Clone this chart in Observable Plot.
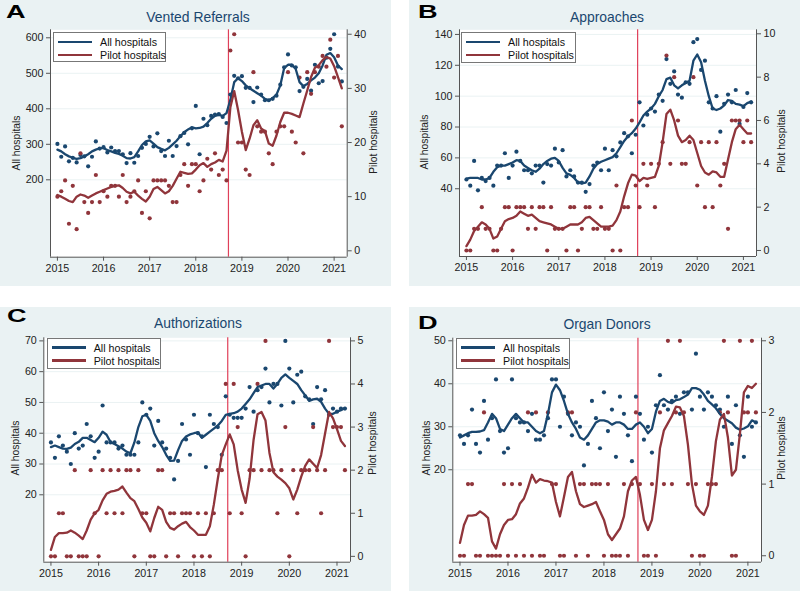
<!DOCTYPE html>
<html><head><meta charset="utf-8">
<script src="https://cdn.jsdelivr.net/npm/d3@7"></script>
<script src="https://cdn.jsdelivr.net/npm/@observablehq/plot@0.6"></script>
<style>
body{margin:0;background:#fff;font-family:"Liberation Sans",Arial,sans-serif;}
#root{position:relative;width:800px;height:591px;overflow:hidden;background:#fff;}
.panel{position:absolute;background:#eaf2f3;}
.plot{position:absolute;}
.letter{position:absolute;font-weight:bold;font-size:17.5px;line-height:1;color:#000;transform-origin:0 0;transform:scaleX(1.55);}
.title{position:absolute;font-size:13.9px;line-height:1;color:#1a476f;transform:translate(-50%,-50%);white-space:nowrap;}
.ytitle{position:absolute;font-size:10.3px;line-height:1;color:#222;transform:translate(-50%,-50%) rotate(-90deg);white-space:nowrap;}
.legend{position:absolute;background:#fff;border:1px solid #777;box-sizing:border-box;font-size:10.7px;color:#111;}
.entry{position:absolute;left:4px;height:12px;display:flex;align-items:center;white-space:nowrap;}
.sw{display:inline-block;width:34px;height:2.6px;margin-right:8px;}
</style></head>
<body><div id="root"></div>
<script>
// ---- data: monthly values, Jan 2015 .. Mar 2021 ----
const years = [2015, 2016, 2017, 2018, 2019, 2020, 2021];
const seriesNames = ["All hospitals", "Pilot hospitals"];
const interventionMonth = 44.5; // mid-Sep 2018, months since Jan 2015

const ventedAll = [301,265,294,252,262,249,270,266,238,265,308,288,292,277,291,281,281,272,247,275,248,267,290,301,321,294,331,281,267,310,267,295,323,332,300,345,408,272,372,354,380,384,385,377,360,440,493,486,492,459,459,419,460,440,424,424,428,437,468,517,553,522,517,450,462,484,451,524,472,478,544,569,610,519,477];
const ventedAllFit = [285,280,272,266,262,259,261,266,272,280,285,289,289,284,280,276,273,268,261,260,264,280,298,308,311,302,292,287,283,290,300,310,323,334,342,348,345,346,350,360,372,380,383,380,388,425,475,486,478,466,458,451,444,437,428,424,430,440,466,515,524,524,512,475,464,470,480,488,500,522,552,557,545,522,512];
const ventedPilot = [10,11,13,5,12,4,18,9,7,9,14,9,11,10,12,12,10,14,9,10,11,13,7,11,6,13,13,13,13,12,9,9,14,16,12,16,16,11,13,17,15,18,14,15,13,37,40,20,20,15,14,33,23,22,22,18,16,22,23,23,33,22,20,32,18,33,29,33,34,36,34,39,32,36,23];
const ventedPilotFit = [10.3,10,9.6,9.2,9,10,10.4,10.2,9.8,10.2,10.6,10.9,11.2,11.5,11.8,12,12.1,11.6,10.9,10.6,10.9,10.2,9.6,9.1,10,11.4,11.8,11.2,10.6,11,12,13.3,14.6,14.4,14.2,14.3,15,15.8,16.2,15.5,16,16.3,16.8,16.5,18.5,26.5,29.5,26,22,18.6,20.7,23.2,24.1,22.6,22.1,19.8,19.4,21.3,23.8,25.5,25.5,25.3,25,24.7,27.2,29.6,32.1,33.8,34.3,35.2,35.8,35.5,34.1,32.1,30];

const approachAll = [46,42,58,39,47,45,47,42,55,55,63,47,55,64,58,52,52,50,55,55,44,56,55,66,57,65,48,52,48,44,44,38,43,55,57,52,66,52,65,61,70,76,74,63,75,96,81,88,92,90,101,97,124,108,116,101,99,109,108,135,137,117,123,96,92,100,77,95,101,96,104,82,93,102,96];
const approachAllFit = [46.5,47,47,47,46,46,47,51,54,55,55,56,57,58.5,58,55,53.5,52,51,53,56,58,59.5,60,58,53.5,50,49,47,44,43.5,44,48,53,56,57.5,58.5,59.5,60.5,63,67,71,74,76,79,83,87.5,90,92,95,100,104,111,112,107,105,107,108.5,110,123,127,122,110,100,92,91,92,94,97.5,97,95,94.5,93.5,95.5,96.5];
const approachPilot = [0,0,1,1,2,1,1,0,0,1,2,2,0,2,2,2,1,2,1,2,2,0,2,1,1,1,0,2,2,0,1,2,2,1,1,2,1,1,0,3,0,2,2,6,3,2,4,3,4,2,4,5,9,4,8,6,4,4,5,8,3,5,2,5,2,5,3,4,1,6,6,6,5,6,5];
const approachPilotFit = [0.2,0.5,0.9,1.1,1.3,1.2,1.0,0.55,0.65,1.0,1.35,1.45,1.5,1.6,1.8,1.7,1.6,1.65,1.5,1.35,1.3,1.25,1.2,1.1,1.0,1.0,1.1,1.2,1.2,1.2,1.3,1.5,1.55,1.4,1.25,1.1,1.1,1.1,1.15,1.4,1.8,2.5,3.1,3.5,3.45,3.2,3.35,3.3,3.35,3.4,3.9,5.0,6.3,6.5,6.0,5.3,5.0,5.1,5.3,5.1,4.5,3.9,3.6,3.5,3.65,3.6,3.4,3.4,4.2,5.0,5.6,5.8,5.6,5.4,5.4];

const authAll = [37,32,39,36,34,30,40,35,36,43,39,32,34,49,37,37,37,35,36,33,33,33,37,50,46,48,36,44,37,35,32,25,31,43,38,33,46,40,39,29,46,43,42,33,52,46,45,45,45,48,55,47,54,55,61,50,56,56,49,70,61,50,59,60,52,51,43,55,51,54,46,48,47,48,48];
const authAllFit = [35.5,36,35.5,35,34.9,35.3,36.5,37.2,38.5,38.5,37.8,37.1,38.5,40.5,39.5,37.1,36.5,35.8,35,34,33.5,37,42,45.5,46,44,40,37.5,35.5,33,31,31.1,34.5,37.5,38.9,39.6,40,40.3,38.5,39.5,40.5,41.5,42.5,44,46,46.3,46.5,47,48,49.5,51,53,55,55.5,56,56,54.5,56,58,59.1,58,57,56,54,52.3,50.5,51,51.2,50.2,48,46.3,46.3,47,47.5,48.2];
const authPilot = [0,0,1,1,0,0,2,0,0,0,2,1,0,2,1,2,1,2,1,2,2,0,2,1,1,0,0,2,2,0,1,1,0,1,1,1,0,1,0,1,0,1,2,2,4,1,4,3,1,0,2,2,4,2,5,2,2,1,2,3,0,2,1,2,2,2,3,2,1,2,5,3,3,3,2];
const authPilotFit = [0.15,0.45,0.54,0.54,0.55,0.6,0.55,0.48,0.4,0.6,0.85,1.0,1.08,1.3,1.45,1.5,1.52,1.55,1.62,1.48,1.35,1.28,1.1,0.9,0.78,0.58,0.89,1.15,1.08,0.8,0.66,0.62,0.7,0.76,0.8,0.68,0.6,0.5,0.5,0.5,0.7,1.2,1.8,2.35,2.6,2.83,2.6,2.0,1.55,1.24,1.8,2.7,3.3,3.35,3.15,2.4,1.95,1.85,1.78,1.7,1.58,1.32,1.55,1.85,2.1,2.25,2.15,2.05,2.35,2.85,3.35,3.2,2.95,2.68,2.56];

const donorAll = [28,26,28,34,26,24,36,27,32,41,29,24,25,41,32,31,31,29,33,27,27,28,32,41,41,30,37,33,28,31,30,21,26,36,32,25,38,29,34,23,37,33,28,22,37,33,27,30,24,35,42,35,34,36,37,33,38,38,34,47,37,34,38,37,35,34,30,37,26,35,28,23,37,30,31];
const donorAllFit = [27.5,28,28.5,28.8,28.8,28.9,29.2,31,33,32,29.5,29,30.5,32,33,32,31,31,30,29,28.5,29,33,38,39.8,38.5,36,33,31,29.5,27.5,27,28,29.5,31,31.5,31.5,31.2,30.5,31,31,30.5,29.5,29.5,30.5,31,30,28.5,29.5,33.5,36,36.5,35.8,35.5,36.2,36.4,36.9,37.5,39,39,38.6,37.5,36,35.2,34.3,33,32,31.4,30.8,29.8,29.3,29.6,30.1,31.5,31];
const donorPilot = [0,0,1,1,0,0,2,0,0,0,0,1,0,1,0,1,0,2,0,2,0,0,2,1,1,0,0,2,2,0,1,1,0,1,1,1,0,1,0,0,0,1,0,1,2,1,0,0,1,0,2,1,3,1,2,3,2,1,0,1,0,0,1,1,1,2,3,2,0,0,3,2,2,3,2];
const donorPilotFit = [0.18,0.43,0.56,0.56,0.57,0.62,0.58,0.53,0.2,0.1,0.3,0.43,0.5,0.51,0.58,0.73,0.8,0.95,1.13,1.02,1.07,1.05,1.04,1.02,0.75,0.55,0.82,1.1,1.17,0.9,0.72,0.68,0.7,0.72,0.75,0.62,0.5,0.3,0.22,0.3,0.38,0.55,0.9,1.05,1.1,0.85,0.5,0.36,0.5,0.9,1.5,1.75,1.85,1.95,2.08,2.07,1.95,1.55,1.0,0.7,0.62,0.57,0.7,1.1,1.6,1.9,1.98,1.65,1.12,1.2,1.7,2.28,2.37,2.34,2.4];

const leftTicksA = [200,300,400,500,600], rightTicksA = [0,10,20,30,40];
const leftTicksB = [40,60,80,100,120,140], rightTicksB = [0,2,4,6,8,10];
const leftTicksC = [20,30,40,50,60,70], rightTicksC = [0,1,2,3,4,5];
const leftTicksD = [20,30,40,50], rightTicksD = [0,1,2,3];

// ---- layout ----
const BLUE = "#1a476f", RED = "#90353b", VLINE = "#e0405a";
const xDomain = [-1.8, 75.4];

const panels = [
  {letter:"A", title:"Vented Referrals", all:ventedAll, allFit:ventedAllFit, pilot:ventedPilot, pilotFit:ventedPilotFit,
   leftTicks:leftTicksA, rightTicks:rightTicksA, k:15.25, yDomain:[-18,622.5],
   box:[0,0,391,286], m:[29.3,44.3,29.3,50], letterPos:[6,3.5], titlePos:[198,18.3], lt:[16.7,143], rt:[374,142], legend:[53,32,113,30]},
  {letter:"B", title:"Approaches", all:approachAll, allFit:approachAllFit, pilot:approachPilot, pilotFit:approachPilotFit,
   leftTicks:leftTicksB, rightTicks:rightTicksB, k:14.04, yDomain:[-3.9,143],
   box:[409,0,391,286], m:[29.3,44,30,50], letterPos:[418,3.5], titlePos:[607,18.3], lt:[425,142], rt:[782,141], legend:[461,32,115,31]},
  {letter:"C", title:"Authorizations", all:authAll, allFit:authAllFit, pilot:authPilot, pilotFit:authPilotFit,
   leftTicks:leftTicksC, rightTicks:rightTicksC, k:14, yDomain:[-1.9,71],
   box:[0,307,391,284], m:[30.3,41,29.3,43.3], letterPos:[6.5,308],titlePos:[198,324.3], lt:[16,448], rt:[373,443], legend:[46.7,337.7,114,31]},
  {letter:"D", title:"Organ Donors", all:donorAll, allFit:donorAllFit, pilot:donorPilot, pilotFit:donorPilotFit,
   leftTicks:leftTicksD, rightTicks:rightTicksD, k:50/3, yDomain:[-1.5,50.6],
   box:[409,307,391,284], m:[30.7,39,29.3,43.3], letterPos:[418,315],titlePos:[607,325], lt:[427,448], rt:[782,448], legend:[456,337.7,114,31]}
];

const root = document.getElementById("root");
function add(cls, html, style) {
  const d = document.createElement("div");
  d.className = cls; if (html != null) d.textContent = html;
  Object.assign(d.style, style); root.appendChild(d); return d;
}

for (const p of panels) {
  const [bx, by, bw, bh] = p.box;
  add("panel", null, {left: bx+"px", top: by+"px", width: bw+"px", height: bh+"px"});
  const toRows = (arr) => arr.map((v, i) => ({m: i, v}));
  const all = toRows(p.all), allFit = toRows(p.allFit);
  const pilot = toRows(p.pilot), pilotFit = toRows(p.pilotFit);
  const k = p.k;
  const chart = Plot.plot({
    width: bw, height: bh,
    marginTop: p.m[0], marginRight: p.m[1], marginBottom: p.m[2], marginLeft: p.m[3],
    style: {background: "transparent", fontFamily: "'Liberation Sans', Arial, sans-serif", fontSize: "10px", color: "#222", overflow: "visible"},
    x: {domain: xDomain, axis: null},
    y: {domain: p.yDomain, axis: null},
    marks: [
      Plot.frame({fill: "white", stroke: null}),
      Plot.gridY({ticks: p.leftTicks, stroke: "#eaf2f3", strokeOpacity: 1, strokeWidth: 1}),
      Plot.ruleX([interventionMonth], {stroke: VLINE, strokeWidth: 1.2}),
      Plot.dot(all, {x: "m", y: "v", r: 2.1, fill: BLUE, stroke: null}),
      Plot.dot(pilot, {x: "m", y: d => d.v * k, r: 2.1, fill: RED, stroke: null}),
      Plot.line(allFit, {x: "m", y: "v", stroke: BLUE, strokeWidth: 2.3}),
      Plot.line(pilotFit, {x: "m", y: d => d.v * k, stroke: RED, strokeWidth: 2.3}),
      Plot.ruleX([xDomain[0], xDomain[1]], {stroke: "#555", strokeWidth: 1}),
      Plot.ruleY([p.yDomain[0]], {stroke: "#555", strokeWidth: 1}),
      Plot.axisX({ticks: years.map(y => (y - 2015) * 12), tickFormat: d => String(2015 + d / 12), tickSize: 4, tickPadding: 3, stroke: "#555", label: null, fontSize: 10.7}),
      Plot.axisY({anchor: "left", ticks: p.leftTicks, tickSize: 4, tickPadding: 3, stroke: "#555", label: null, fontSize: 10.7}),
      Plot.axisY({anchor: "right", ticks: p.rightTicks.map(v => v * k), tickFormat: d => String(Math.round(d / k)), tickSize: 4, tickPadding: 3, stroke: "#555", label: null, fontSize: 10.7})
    ]
  });
  chart.classList.add("plot");
  chart.style.left = bx + "px"; chart.style.top = by + "px";
  root.appendChild(chart);

  add("letter", p.letter, {left: p.letterPos[0]+"px", top: p.letterPos[1]+"px"});
  add("title", p.title, {left: p.titlePos[0]+"px", top: p.titlePos[1]+"px"});
  add("ytitle", seriesNames[0], {left: p.lt[0]+"px", top: p.lt[1]+"px"});
  add("ytitle", seriesNames[1], {left: p.rt[0]+"px", top: p.rt[1]+"px"});
  const lg = add("legend", null, {left: p.legend[0]+"px", top: p.legend[1]+"px", width: p.legend[2]+"px", height: p.legend[3]+"px"});
  seriesNames.forEach((name, i) => {
    const e = document.createElement("div");
    e.className = "entry"; e.style.top = (3 + i * 13) + "px";
    const sw = document.createElement("span"); sw.className = "sw"; sw.style.background = i === 0 ? BLUE : RED;
    const t = document.createElement("span"); t.textContent = name;
    e.appendChild(sw); e.appendChild(t); lg.appendChild(e);
  });
}
</script></body></html>
